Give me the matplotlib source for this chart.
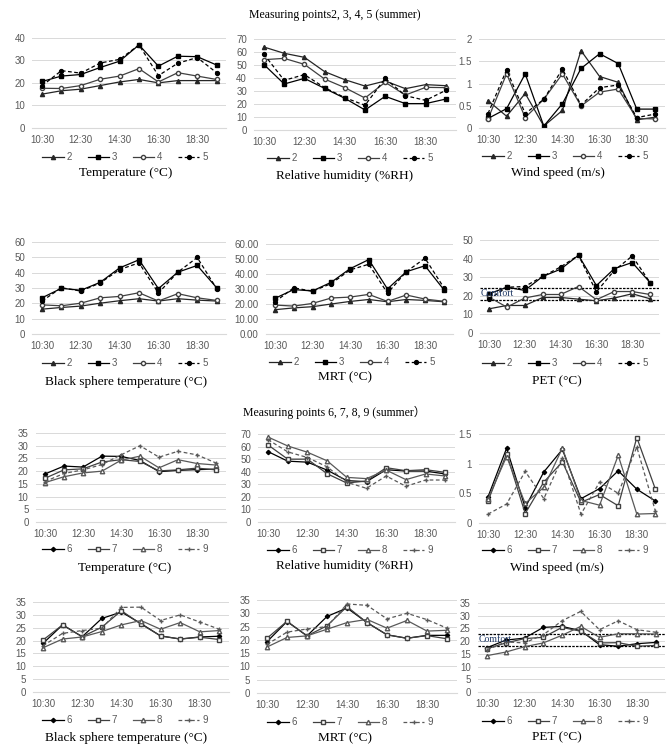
import matplotlib
matplotlib.use("Agg")
import matplotlib.pyplot as plt
from matplotlib.lines import Line2D

# ---- data -------------------------------------------------------------
times = ["10:30", "11:30", "12:30", "13:30", "14:30",
         "15:30", "16:30", "17:30", "18:30", "19:30"]
tick_labels = ["10:30", "12:30", "14:30", "16:30", "18:30"]

names_a = ["2", "3", "4", "5"]
names_b = ["6", "7", "8", "9"]

# measuring points 2, 3, 4, 5
temp_a = [
    [15.0, 16.5, 17.2, 18.8, 20.4, 21.5, 20.0, 21.0, 21.0, 21.0],
    [20.6, 23.0, 23.7, 26.8, 29.6, 36.8, 27.4, 31.8, 31.6, 27.9],
    [17.6, 17.5, 18.8, 21.6, 23.0, 26.3, 20.4, 24.5, 23.0, 21.5],
    [18.7, 25.4, 24.3, 28.8, 30.4, 36.8, 23.2, 28.7, 31.2, 24.5],
]
rh_a = [
    [63.8, 59.0, 55.9, 44.9, 38.7, 33.8, 37.7, 31.8, 34.9, 34.1],
    [50.3, 35.4, 39.7, 32.0, 24.4, 15.4, 25.9, 20.3, 20.3, 23.8],
    [54.1, 55.1, 50.5, 39.2, 32.6, 24.6, 36.7, 26.9, 32.8, 32.6],
    [58.2, 38.2, 42.6, 32.6, 24.9, 19.0, 39.7, 26.4, 22.8, 30.5],
]
wind_a = [
    [0.62, 0.27, 0.78, 0.05, 0.40, 1.74, 1.16, 1.03, 0.19, 0.25],
    [0.22, 0.44, 1.22, 0.05, 0.55, 1.34, 1.67, 1.45, 0.43, 0.43],
    [0.21, 1.22, 0.24, 0.65, 1.22, 0.50, 0.81, 0.88, 0.22, 0.21],
    [0.33, 1.31, 0.33, 0.65, 1.33, 0.52, 0.91, 0.97, 0.24, 0.32],
]
bst_a = [
    [16.2, 17.3, 18.2, 20.1, 21.7, 23.0, 21.5, 23.0, 22.1, 21.5],
    [23.6, 29.8, 28.5, 33.7, 43.1, 48.4, 29.6, 40.3, 44.7, 30.2],
    [19.0, 18.4, 20.1, 23.6, 24.5, 26.9, 21.5, 26.3, 23.6, 21.9],
    [21.5, 30.2, 28.0, 33.3, 42.0, 46.4, 26.7, 40.3, 49.9, 29.6],
]
mrt_a = [
    [16.2, 17.4, 18.2, 20.0, 21.7, 23.0, 21.5, 23.0, 22.4, 21.5],
    [23.8, 29.6, 28.7, 34.5, 43.5, 49.6, 30.0, 41.5, 45.5, 29.6],
    [19.3, 18.6, 20.4, 24.0, 24.6, 26.4, 21.7, 26.0, 23.3, 21.8],
    [21.5, 30.8, 28.5, 33.6, 42.7, 46.5, 27.2, 41.5, 50.5, 31.0],
]
pet_a = [
    [13.0, 14.8, 14.8, 19.1, 19.1, 18.2, 17.3, 18.8, 21.1, 18.4],
    [21.1, 24.6, 22.9, 30.4, 34.3, 41.8, 25.5, 34.6, 37.9, 27.1],
    [19.3, 13.9, 18.8, 20.7, 20.7, 25.0, 17.9, 22.3, 22.3, 20.7],
    [18.2, 24.6, 25.0, 30.4, 35.5, 41.8, 22.1, 33.6, 41.4, 27.1],
]

# measuring points 6, 7, 8, 9
temp_b = [
    [18.9, 22.0, 21.6, 25.9, 25.8, 24.2, 19.8, 20.3, 20.6, 20.8],
    [17.2, 20.5, 20.9, 23.6, 24.5, 23.8, 20.1, 20.5, 21.2, 20.5],
    [15.5, 17.8, 19.3, 20.0, 24.3, 25.9, 21.3, 24.5, 23.0, 22.4],
    [15.9, 19.1, 20.5, 22.6, 26.4, 30.0, 25.5, 27.8, 26.4, 23.2],
]
rh_b = [
    [56.0, 48.4, 47.6, 41.3, 32.9, 32.1, 41.6, 40.5, 40.5, 38.2],
    [61.3, 50.0, 50.0, 38.4, 31.0, 32.6, 43.2, 40.8, 41.6, 39.5],
    [67.6, 60.5, 55.5, 48.7, 35.5, 34.5, 41.3, 33.7, 38.2, 36.6],
    [65.5, 55.8, 51.3, 43.9, 31.6, 26.8, 36.6, 28.4, 33.4, 33.4],
]
wind_b = [
    [0.44, 1.26, 0.26, 0.86, 1.24, 0.41, 0.58, 0.88, 0.57, 0.37],
    [0.37, 1.17, 0.16, 0.69, 1.03, 0.35, 0.48, 0.29, 1.44, 0.57],
    [0.41, 1.12, 0.33, 0.60, 1.26, 0.38, 0.30, 1.14, 0.15, 0.16],
    [0.15, 0.32, 0.87, 0.41, 1.10, 0.15, 0.69, 0.50, 1.28, 0.20],
]
bst_b = [
    [18.9, 26.1, 21.5, 28.6, 31.1, 26.6, 21.8, 20.6, 21.4, 21.7],
    [20.2, 26.1, 21.5, 25.2, 31.6, 26.4, 21.8, 20.6, 21.3, 20.4],
    [17.2, 20.6, 21.4, 23.5, 26.1, 27.8, 24.4, 27.0, 23.4, 23.9],
    [18.0, 22.8, 23.9, 24.8, 32.9, 33.0, 27.8, 30.0, 27.2, 24.4],
]
mrt_b = [
    [19.3, 26.9, 21.5, 28.8, 32.0, 26.5, 21.9, 20.6, 21.7, 21.7],
    [20.6, 27.0, 21.5, 25.3, 32.5, 26.5, 21.9, 20.6, 21.6, 20.4],
    [17.3, 20.9, 21.5, 24.0, 26.5, 27.7, 24.4, 27.3, 23.3, 23.6],
    [18.3, 22.9, 24.1, 25.0, 33.5, 33.0, 27.9, 30.0, 27.6, 24.4],
]
pet_b = [
    [17.4, 20.4, 21.2, 25.4, 25.8, 24.1, 18.6, 18.0, 19.0, 19.5],
    [17.0, 19.3, 21.0, 21.5, 25.4, 23.9, 19.3, 19.4, 18.0, 18.3],
    [14.3, 15.7, 17.8, 19.3, 22.3, 25.8, 21.5, 22.9, 22.9, 22.8],
    [16.6, 19.7, 19.3, 22.5, 28.0, 31.7, 24.5, 28.0, 24.5, 23.5],
]

comfort_a = [18, 24]
comfort_b = [18, 23]

# ---- styles -----------------------------------------------------------
W, H = 669, 754
tick_font = "Liberation Sans"
serif = ["Liberation Serif", "Noto Sans CJK SC"]
grey = "#595959"

styles_a = [
    dict(color="#262626", marker="^", ms=3.0, ls="-"),
    dict(color="#000000", marker="s", ms=2.8, ls="-"),
    dict(color="#404040", marker="o", ms=3.0, mfc="white", ls="-"),
    dict(color="#000000", marker="o", ms=2.8, ls=(0, (3, 2))),
]
styles_b = [
    dict(color="#000000", marker="D", ms=2.2, ls="-"),
    dict(color="#404040", marker="s", ms=3.0, mfc="white", ls="-"),
    dict(color="#595959", marker="^", ms=3.2, mfc="white", ls="-"),
    dict(color="#595959", marker="+", ms=3.5, ls=(0, (3, 2))),
]

fig = plt.figure(figsize=(W / 100, H / 100), dpi=100)


def panel(x0, sp, ytop, ybot, series, names, styles, ymax, ystep,
          label, lab_xy, leg_xy, fmt="{:g}", comfort=None):
    ax = fig.add_axes([(x0 - sp / 2) / W, 1 - ybot / H, 10 * sp / W, (ybot - ytop) / H])
    for vals, name, st in zip(series, names, styles):
        ax.plot(range(len(times)), vals, lw=0.9, label=name, **st)
    ax.set_xlim(-0.5, len(times) - 0.5)
    ax.set_ylim(0, ymax)
    ticks = [i * ystep for i in range(int(round(ymax / ystep)) + 1)]
    ax.set_yticks(ticks)
    ax.set_yticklabels([fmt.format(t) for t in ticks])
    ax.set_xticks([times.index(t) for t in tick_labels])
    ax.set_xticklabels(tick_labels)
    ax.tick_params(length=0, labelsize=7, colors=grey, pad=5)
    for t in ax.get_xticklabels() + ax.get_yticklabels():
        t.set_fontfamily(tick_font)
    ax.grid(axis="y", color="#d9d9d9", lw=0.7)
    ax.set_axisbelow(True)
    for s in ["top", "right", "left"]:
        ax.spines[s].set_visible(False)
    ax.spines["bottom"].set_color("#d9d9d9")
    if comfort:
        for c in comfort:
            ax.axhline(c, color="black", lw=0.9, ls=(0, (2, 1)), zorder=1)
        ax.text(-0.45, (comfort[0] + comfort[1]) / 2, "Comfort", fontsize=7,
                family=serif, color="#1f3864", va="center", ha="left")
    handles = [Line2D([], [], lw=0.9, **st) for st in styles]
    fig.legend(handles, names, loc="center", ncol=4, frameon=False,
               bbox_to_anchor=(leg_xy[0] / W, 1 - leg_xy[1] / H),
               prop={"family": tick_font, "size": 7}, labelcolor=grey,
               handlelength=2.2, handletextpad=0.3, columnspacing=1.6)
    fig.text(lab_xy[0] / W, 1 - lab_xy[1] / H, label, ha="center", va="center",
             fontsize=9.5, family=serif)
    return ax


fig.text(0.5, 1 - 15 / H, "Measuring points2, 3, 4, 5 (summer)", ha="center",
         va="center", fontsize=8.5, family=serif)
fig.text(0.5, 1 - 412 / H, "Measuring points 6, 7, 8, 9 (summer\uff09", ha="center",
         va="center", fontsize=8.5, family=serif)

panel(42, 19.4, 37.7, 128, temp_a, names_a, styles_a, 40, 10,
      "Temperature (°C)", (126, 173), (125, 157))
panel(264, 20.2, 39, 130, rh_a, names_a, styles_a, 70, 10,
      "Relative humidity (%RH)", (345, 176), (350, 158))
panel(488, 18.6, 39, 128.3, wind_a, names_a, styles_a, 2, 0.5,
      "Wind speed (m/s)", (558, 173), (565, 156))
panel(42, 19.4, 242, 334, bst_a, names_a, styles_a, 60, 10,
      "Black sphere temperature (°C)", (126, 382), (125, 363))
panel(275, 18.75, 244, 334, mrt_a, names_a, styles_a, 60, 10,
      "MRT (°C)", (345, 377), (352, 362), fmt="{:.2f}")
panel(489, 17.9, 240, 333, pet_a, names_a, styles_a, 50, 10,
      "PET (°C)", (557, 381), (565, 363), comfort=comfort_a)

panel(45, 19, 433, 522, temp_b, names_b, styles_b, 35, 5,
      "Temperature (°C)", (125, 568), (125, 549))
panel(268, 19.7, 434, 522, rh_b, names_b, styles_b, 70, 10,
      "Relative humidity (%RH)", (345, 566), (350, 550))
panel(488, 18.6, 434, 523, wind_b, names_b, styles_b, 1.5, 0.5,
      "Wind speed (m/s)", (557, 568), (565, 550))
panel(43, 19.6, 602, 692, bst_b, names_b, styles_b, 35, 5,
      "Black sphere temperature (°C)", (126, 738), (125, 720))
panel(267, 20, 600, 693, mrt_b, names_b, styles_b, 35, 5,
      "MRT (°C)", (345, 738), (350, 722))
panel(487, 18.75, 603, 692, pet_b, names_b, styles_b, 35, 5,
      "PET (°C)", (557, 737), (565, 721), comfort=comfort_b)

fig.savefig("out.png", dpi=100)
